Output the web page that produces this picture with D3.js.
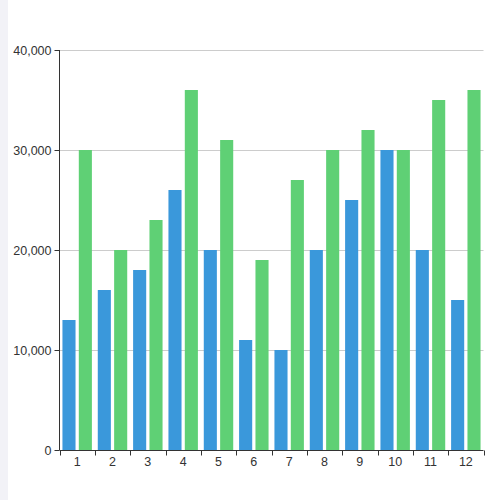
<!DOCTYPE html>
<html><head><meta charset="utf-8">
<script src="https://cdn.jsdelivr.net/npm/d3@7"></script>
<style>body{margin:0;background:#fff;}svg{display:block;font-family:"Open Sans","Noto Sans","DejaVu Sans",sans-serif;}</style>
</head><body>
<script>
const categories = ["1","2","3","4","5","6","7","8","9","10","11","12"];
const seriesA = [13000,16000,18000,26000,20000,11000,10000,20000,25000,30000,20000,15000];
const seriesB = [30000,20000,23000,36000,31000,19000,27000,30000,32000,30000,35000,36000];
const yTicks = [0,10000,20000,30000,40000];
const colors = ["#3a98db","#5fd075"];

const W=500,H=500;
const mLeft=59.5,mRight=483.5,mTop=50,mBottom=450;
const svg=d3.select("body").append("svg").attr("width",W).attr("height",H);
svg.append("rect").attr("x",0).attr("y",0).attr("width",8).attr("height",H).attr("fill","#f2f2f7");

const x=d3.scaleBand().domain(categories).range([mLeft,mRight]).paddingInner(0).paddingOuter(0);
const y=d3.scaleLinear().domain([0,40000]).range([mBottom,mTop]);
const inner=d3.scaleBand().domain([0,1]).range([0,x.bandwidth()]).paddingInner(0.2).paddingOuter(0.18);

// grid
svg.append("g").selectAll("line").data(yTicks.filter(d=>d>0)).join("line")
  .attr("x1",mLeft).attr("x2",mRight).attr("y1",d=>Math.round(y(d))+0.5).attr("y2",d=>Math.round(y(d))+0.5)
  .attr("stroke","#cccccc").attr("stroke-width",1);

// bars
[seriesA,seriesB].forEach((s,si)=>{
  svg.append("g").selectAll("rect").data(s).join("rect")
    .attr("x",(d,i)=>x(categories[i])+inner(si))
    .attr("width",inner.bandwidth())
    .attr("y",d=>y(d))
    .attr("height",d=>y(0)-y(d))
    .attr("fill",colors[si]);
});

// y axis
const ya=svg.append("g").attr("transform",`translate(${mLeft},0)`)
  .call(d3.axisLeft(y).tickValues(yTicks).tickFormat(d3.format(",")).tickSize(5).tickPadding(3));
ya.select(".domain").attr("stroke","#333").attr("d",`M0,${mTop}V${mBottom}`);
ya.selectAll(".tick line").attr("stroke","#333");
ya.selectAll("text").attr("fill","#333").style("font-size","12.5px");

// x axis
const xa=svg.append("g").attr("transform",`translate(0,${mBottom+0.5})`)
  .call(d3.axisBottom(x).tickSize(0).tickPadding(7));
xa.select(".domain").attr("stroke","#333").attr("d",`M${mLeft},0H${mRight}`);
xa.selectAll("text").attr("fill","#333").style("font-size","12.5px");
const bounds=d3.range(categories.length+1).map(i=>mLeft+i*x.bandwidth());
xa.selectAll(".bt").data(bounds).join("line").attr("class","bt")
  .attr("x1",d=>Math.round(d)+0.5).attr("x2",d=>Math.round(d)+0.5).attr("y1",0).attr("y2",5).attr("stroke","#333");
</script>
</body></html>
